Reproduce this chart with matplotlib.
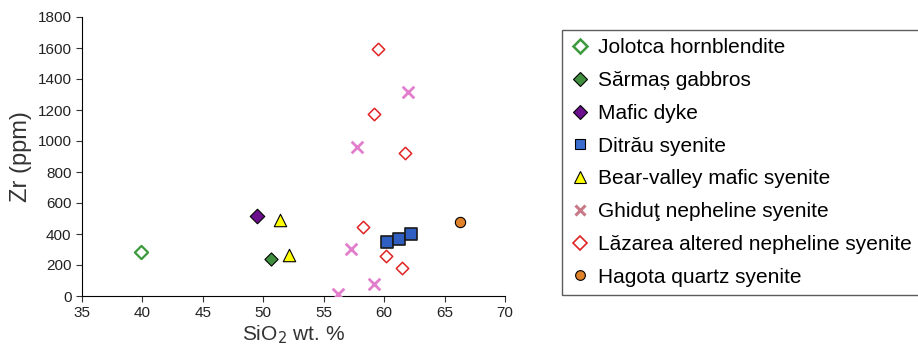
import numpy as np
import matplotlib.pyplot as plt
from matplotlib.lines import Line2D

plt.rcParams['font.family'] = ['Liberation Sans', 'DejaVu Sans']

# data (SiO2 wt.%, Zr ppm)
jolotca_x = [39.9]
jolotca_y = [285]
sarmas_x = [50.65]
sarmas_y = [237]
mafic_x = [49.5]
mafic_y = [516]
ditrau_x = [60.25, 61.2, 62.2]
ditrau_y = [346, 370, 400]
bear_x = [51.35, 52.15]
bear_y = [488, 262]
ghidut_x = [61.95, 57.75, 57.25, 56.15, 59.15]
ghidut_y = [1318, 963, 301, 13, 75]
lazarea_x = [59.5, 59.2, 61.75, 58.25, 60.15, 61.5]
lazarea_y = [1591, 1172, 920, 445, 260, 179]
hagota_x = [66.25]
hagota_y = [475]

labels = ['Jolotca hornblendite', 'Sărmaș gabbros', 'Mafic dyke', 'Ditrău syenite',
          'Bear-valley mafic syenite', 'Ghiduţ nepheline syenite',
          'Lăzarea altered nepheline syenite', 'Hagota quartz syenite']

fig = plt.figure(figsize=(9.18, 3.52), dpi=100)
ax = fig.add_axes([82/918, 1 - 296/352, 423/918, 279/352])

ax.scatter(jolotca_x, jolotca_y, marker='D', s=45, facecolor='white', edgecolor='#3c9a3c', linewidth=1.6, zorder=3)
ax.scatter(sarmas_x, sarmas_y, marker='D', s=45, facecolor='#3f8f3f', edgecolor='black', linewidth=0.8, zorder=3)
ax.scatter(mafic_x, mafic_y, marker='D', s=55, facecolor='#6c0f8c', edgecolor='black', linewidth=0.8, zorder=3)
ax.scatter(ditrau_x, ditrau_y, marker='s', s=75, facecolor='#2f5fc0', edgecolor='#1a1a1a', linewidth=1.2, zorder=3)
ax.scatter(bear_x, bear_y, marker='^', s=80, facecolor='#ffff00', edgecolor='black', linewidth=0.8, zorder=3)
ax.scatter(ghidut_x, ghidut_y, marker='x', s=70, color='#e27ecb', linewidth=2.0, zorder=3)
ax.scatter(lazarea_x, lazarea_y, marker='D', s=40, facecolor='white', edgecolor='#e02424', linewidth=1.1, zorder=3)
ax.scatter(hagota_x, hagota_y, marker='o', s=55, facecolor='#e0822a', edgecolor='black', linewidth=0.8, zorder=3)

ax.set_xlim(35, 70)
ax.set_ylim(0, 1800)
ax.set_xticks(np.arange(35, 71, 5))
ax.set_yticks(np.arange(0, 1801, 200))
ax.spines['top'].set_visible(False)
ax.spines['right'].set_visible(False)
ax.tick_params(axis='both', direction='out', length=4, labelsize=11, color='#333333', labelcolor='#222222')
ax.set_xlabel('SiO$_2$ wt. %', fontsize=15, labelpad=2, color='#333333')
ax.set_ylabel('Zr (ppm)', fontsize=17, labelpad=4, color='#333333')

handles = [
    Line2D([], [], ls='none', marker='D', ms=7.5, mfc='white', mec='#3c9a3c', mew=1.8),
    Line2D([], [], ls='none', marker='D', ms=7, mfc='#3f8f3f', mec='black', mew=0.8),
    Line2D([], [], ls='none', marker='D', ms=7, mfc='#6c0f8c', mec='black', mew=0.8),
    Line2D([], [], ls='none', marker='s', ms=7, mfc='#3a6fcf', mec='black', mew=0.8),
    Line2D([], [], ls='none', marker='^', ms=8.5, mfc='#ffff00', mec='black', mew=0.8),
    Line2D([], [], ls='none', marker='x', ms=6.5, color='#c97a88', mew=2.2),
    Line2D([], [], ls='none', marker='D', ms=7.5, mfc='white', mec='#e02424', mew=1.2),
    Line2D([], [], ls='none', marker='o', ms=7, mfc='#e0822a', mec='black', mew=0.8),
]
leg = fig.legend(handles, labels, loc='upper left', bbox_to_anchor=(562/918, 1 - 30/352),
                 fontsize=15, labelspacing=0.66, handlelength=0.9, handletextpad=0.45,
                 borderpad=0.4, fancybox=False, frameon=True, borderaxespad=0)
leg.get_frame().set_edgecolor('#333333')
leg.get_frame().set_linewidth(1.0)

fig.savefig('out.png', dpi=100)
